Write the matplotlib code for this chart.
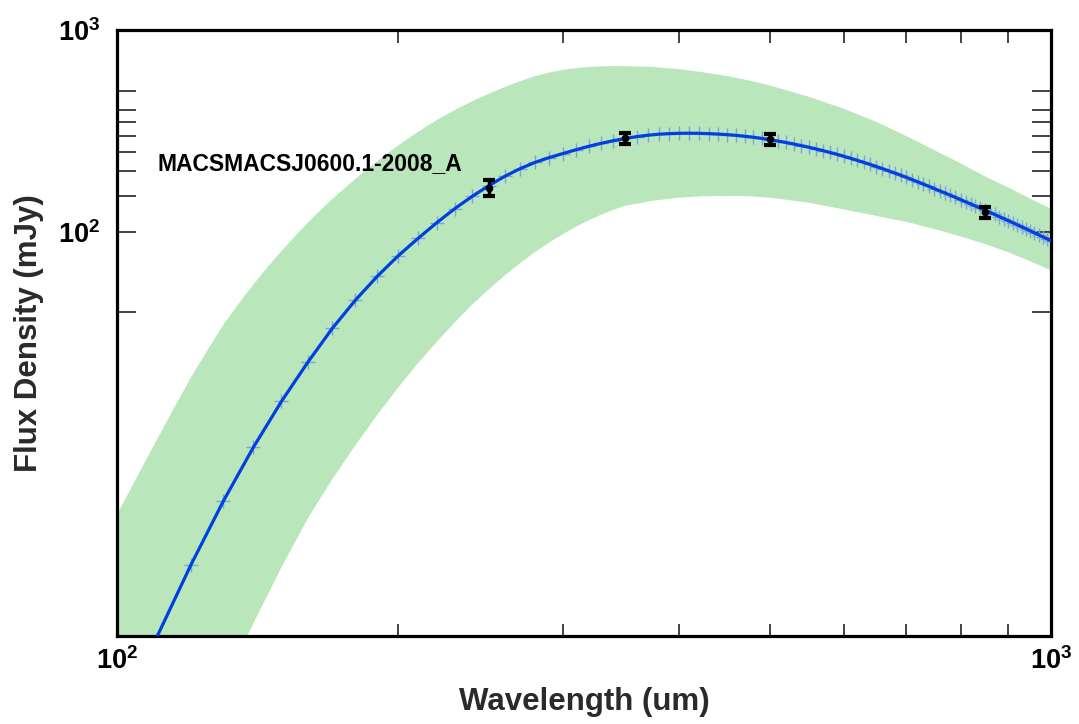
import numpy as np
import matplotlib
matplotlib.use("Agg")
import matplotlib.pyplot as plt
from matplotlib.ticker import FixedLocator, FixedFormatter, NullFormatter, LogLocator

plt.rcParams['font.family'] = ['Liberation Sans', 'DejaVu Sans']
plt.rcParams['font.weight'] = 'bold'
plt.rcParams['mathtext.fontset'] = 'custom'
plt.rcParams['mathtext.rm'] = 'Liberation Sans:bold'
plt.rcParams['mathtext.bf'] = 'Liberation Sans:bold'
plt.rcParams['mathtext.it'] = 'Liberation Sans:bold'

source_name = "MACSMACSJ0600.1-2008_A"

# best-fit model SED, sampled every 10 um
model_wl = np.arange(100, 1001, 10)
model_flux = [
    0.355, 0.96, 2.25, 4.66, 8.61, 14.5, 22.6, 33.3, 46.0, 60.4,
    76.2, 92.9, 111.2, 130.6, 150.0, 169.4, 188.4, 205.6, 220.8, 233.3,
    244.3, 255.3, 265.5, 274.8, 283.1, 290.4, 296.5, 301.3, 304.8, 306.9,
    308.0, 308.2, 307.9, 306.8, 305.3, 303.3, 300.8, 297.8, 294.4, 290.6,
    286.3, 281.9, 277.4, 272.6, 267.8, 262.9, 257.8, 252.7, 247.5, 242.2,
    236.9, 231.6, 226.3, 221.1, 215.9, 210.8, 205.8, 200.8, 195.9, 191.1,
    186.3, 181.6, 177.0, 172.5, 168.2, 164.0, 159.8, 155.9, 152.0, 148.3,
    144.6, 141.1, 137.7, 134.4, 131.2, 128.1, 125.1, 122.1, 119.3, 116.5,
    113.8, 111.2, 108.6, 106.1, 103.7, 101.3, 99.0, 96.8, 94.6, 92.5,
    90.4,
]

# uncertainty envelope of the fit
band_wl = [100, 105, 110, 115, 120, 125, 130, 135, 140, 145, 150, 155, 160,
           165, 170, 180, 190, 200, 210, 220, 230, 240, 250, 260, 270, 280,
           290, 300, 310, 320, 330, 340, 350, 375, 400, 425, 450, 475, 500,
           550, 600, 650, 700, 750, 800, 850, 900, 950, 1000]
band_upper = [3.98, 6.10, 9.12, 13.34, 19.05, 26.0, 34.7, 44.2, 55.0, 67.1,
              80.4, 95.0, 110.9, 127.8, 145.6, 183.2, 224.4, 267.9, 313.3,
              358.1, 401.8, 443.6, 483.1, 521.2, 557.2, 590.2, 615.2, 633.9,
              647.1, 656.1, 660.7, 662.2, 662.2, 656.1, 639.7, 616.6, 591.6,
              562.3, 530.9, 467.7, 407.4, 350.8, 298.5, 254.1, 218.8, 188.4,
              166.0, 146.2, 130.3]
band_lower = [0.0447, 0.071, 0.112, 0.172, 0.263, 0.385, 0.562, 0.813, 1.16,
              1.60, 2.19, 2.90, 3.80, 4.79, 5.96, 8.81, 12.45, 16.98, 22.39,
              28.64, 35.73, 43.65, 52.0, 60.8, 70.0, 79.3, 88.5, 97.5, 106.2,
              114.3, 121.9, 128.8, 134.9, 142.9, 147.9, 150.3, 151.0, 150.3,
              147.9, 139.6, 129.4, 120.2, 112.2, 103.5, 95.1, 87.1, 79.4,
              71.6, 64.6]

# photometry
obs_wl = [250, 350, 500, 850]
obs_flux = [165, 291, 288, 125]
obs_err = [15, 18, 18, 8]

y_minor_ticks = [40, 150, 200, 250, 300, 350, 400, 500]

fig = plt.figure(figsize=(10.79, 7.24), dpi=100)
ax = fig.add_axes([0.1084, 0.1215, 0.8657, 0.8371])

ax.fill_between(band_wl, band_lower, band_upper, color='#b9e6bb', lw=0, zorder=1)
ax.plot(model_wl, model_flux, ls='none', marker='+', ms=10, mew=1,
        color='#7ea4d6', zorder=2)
ax.plot(model_wl, model_flux, color='#0040e0', lw=2.3, zorder=3)
ax.errorbar(obs_wl, obs_flux, yerr=obs_err, fmt='o', color='black', ms=4.5,
            elinewidth=2.5, capsize=4, capthick=3, zorder=4)

ax.set_xscale('log')
ax.set_yscale('log')
ax.set_xlim(100, 1000)
ax.set_ylim(1, 1000)

ax.xaxis.set_major_locator(FixedLocator([100, 1000]))
ax.xaxis.set_major_formatter(FixedFormatter([r'$10^{2}$', r'$10^{3}$']))
ax.xaxis.set_minor_locator(LogLocator(base=10, subs=np.arange(2, 10)))
ax.xaxis.set_minor_formatter(NullFormatter())
ax.yaxis.set_major_locator(FixedLocator([100, 1000]))
ax.yaxis.set_major_formatter(FixedFormatter([r'$10^{2}$', r'$10^{3}$']))
ax.yaxis.set_minor_locator(FixedLocator(y_minor_ticks))
ax.yaxis.set_minor_formatter(NullFormatter())

for s in ax.spines.values():
    s.set_linewidth(2.3)
    s.set_color('black')
ax.tick_params(which='both', direction='in', top=True, right=True, colors='#222222')
ax.tick_params(axis='x', which='both', length=9, width=1.2, labelsize=19.5, pad=8)
ax.tick_params(axis='y', which='both', length=14, width=1.2, labelsize=19.5, pad=12)
for lab in ax.get_xticklabels() + ax.get_yticklabels():
    lab.set_color('black')

ax.set_xlabel('Wavelength (um)', fontsize=22.5, fontweight='bold', color='#2a2a2a', labelpad=9)
ax.set_ylabel('Flux Density (mJy)', fontsize=22.5, fontweight='bold', color='#2a2a2a', labelpad=10)

ax.text(0.043, 0.769, source_name, transform=ax.transAxes, fontsize=16.5,
        fontweight='bold', color='black', va='baseline', ha='left')

fig.savefig('out.png', dpi=100)
